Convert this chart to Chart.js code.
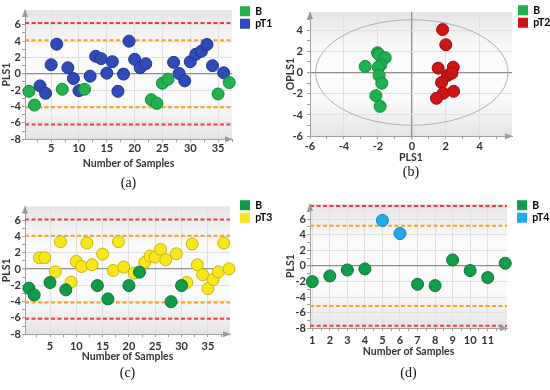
<!DOCTYPE html>
<html>
<head>
<meta charset="utf-8">
<title>PLS score plots</title>
<script src="https://cdn.jsdelivr.net/npm/chart.js@4.4.1/dist/chart.umd.min.js"></script>
<style>
	body { margin: 0; background: #fff; }
	.panel { position: absolute; }
</style>
</head>
<body>
<div class="panel" style="left:0;top:0;width:275px;height:195px"><canvas id="chart-a"></canvas></div>
<div class="panel" style="left:275px;top:0;width:275px;height:185px"><canvas id="chart-b"></canvas></div>
<div class="panel" style="left:0;top:195px;width:275px;height:195px"><canvas id="chart-c"></canvas></div>
<div class="panel" style="left:275px;top:195px;width:275px;height:195px"><canvas id="chart-d"></canvas></div>
<script>
// (a) B vs pT1
const xBa = [1, 2, 7, 11, 23, 24, 25, 26, 35, 37];
const yBa = [-2.14, -3.83, -1.89, -1.89, -3.17, -3.62, -1.15, -0.66, -2.47, -1.07];
const xT1 = [3, 4, 5, 6, 8, 9, 10, 12, 13, 14, 15, 16, 17, 18, 19, 20, 21, 22, 27, 28, 29, 30, 31, 32, 33, 34, 36];
const yT1 = [-1.48, -2.39, 1.11, 3.62, 0.74, -0.58, -2.06, -0.29, 2.14, 1.85, 0.08, 1.48, -2.14, -0.04, 3.99, 1.77, 0.74, 1.23, 1.4, 0.04, -0.86, 1.48, 2.39, 2.76, 3.58, 0.99, 0.12];
const limitsA = [6.2, 4.1, -4.1, -6.2];

// (b) B vs pT2 (OPLS score plot)
const xBb = [-2.75, -2.02, -1.95, -1.57, -1.83, -1.98, -1.93, -1.77, -2.12, -1.87];
const yBb = [0.57, 1.86, 1.7, 1.39, 0.73, 0.5, -0.28, -1.01, -2.18, -3.19];
const xT2 = [1.81, 2.0, 1.55, 2.44, 2.1, 2.36, 1.75, 1.85, 1.45, 2.46];
const yT2 = [4.04, 2.62, 0.41, 0.5, -0.28, -0.06, -0.95, -1.96, -2.43, -1.77];
const ellipseB = [5.67, 4.97]; // Hotelling T2 ellipse half axes

// (c) B vs pT3
const xBc = [1, 2, 5, 8, 14, 16, 20, 22, 28, 30];
const yBc = [-2.35, -3.17, -1.65, -2.55, -2.02, -3.66, -2.02, -0.37, -4.0, -2.02];
const xT3 = [3, 4, 6, 7, 9, 10, 11, 12, 13, 15, 17, 18, 19, 21, 23, 24, 25, 26, 27, 29, 31, 32, 33, 34, 35, 36, 37, 38, 39];
const yT3 = [1.4, 1.4, -0.33, 3.37, -1.6, 0.95, 0.33, 3.21, 0.53, 1.85, -0.16, 3.37, 0.25, -0.49, 0.82, 1.6, 1.48, 2.43, 1.15, 1.89, -1.65, 3.09, 0.53, -0.7, -2.39, -1.28, -0.33, 3.21, 0.04];
const limitsC = [6.1, 4.1, -4.1, -6.1];

// (d) B vs pT4
const xBd = [1, 2, 3, 4, 7, 8, 9, 10, 11, 12];
const yBd = [-2.02, -1.29, -0.52, -0.39, -2.36, -2.53, 0.77, -0.6, -1.5, 0.34];
const xT4 = [5, 6];
const yT4 = [5.84, 4.16];
const limitsD = [7.7, 5.15, -5.15, -7.7];

// Tick labels
const sampleTicks = [5, 10, 15, 20, 25, 30, 35];
const sampleTicksD = [1, 2, 3, 4, 5, 6, 7, 8, 9, 10, 11];
const plsTicks = [-8, -6, -4, -2, 0, 2, 4, 6];
const ticksB = [-6, -4, -2, 0, 2, 4];

const family = 'Lato';
const tickFont = { family: family, size: 11, weight: 'bold' };
const legendFont = { family: family, size: 10.5, weight: 'bold' };

// background, limit lines, ellipse, axis arrows, legend placement
const plotDecor = {
	id: 'plotDecor',
	afterLayout(chart, args, opts) {
		const lg = chart.legend;
		if (!lg || opts.legendX === undefined) return;
		lg.left = opts.legendX - 2;
		lg.width = 40;
		lg.right = lg.left + lg.width;
		lg.top = opts.legendY - 2;
		lg.bottom = lg.top + lg.height;
	},
	beforeDraw(chart) {
		const { ctx, chartArea: a } = chart;
		const g = ctx.createLinearGradient(0, a.top, 0, a.bottom);
		g.addColorStop(0, '#e4e4e4');
		g.addColorStop(0.3, '#fbfbfb');
		g.addColorStop(0.7, '#fbfbfb');
		g.addColorStop(1, '#e4e4e4');
		ctx.save();
		ctx.fillStyle = g;
		ctx.fillRect(a.left, a.top, a.right - a.left, a.bottom - a.top);
		ctx.restore();
	},
	beforeDatasetsDraw(chart, args, opts) {
		const { ctx, chartArea: a, scales } = chart;
		ctx.save();
		const limits = opts.limits || [];
		const outer = Math.max(...limits.map(Math.abs));
		ctx.lineWidth = 2;
		ctx.setLineDash([4, 2.5]);
		limits.forEach((v) => {
			const py = scales.y.getPixelForValue(v);
			ctx.strokeStyle = Math.abs(v) === outer ? '#f23c3c' : '#f5a11a';
			ctx.beginPath();
			ctx.moveTo(a.left, py);
			ctx.lineTo(a.right, py);
			ctx.stroke();
		});
		if (opts.ellipse) {
			ctx.setLineDash([]);
			const cx = scales.x.getPixelForValue(0);
			const cy = scales.y.getPixelForValue(0);
			const rx = scales.x.getPixelForValue(opts.ellipse[0]) - cx;
			const ry = cy - scales.y.getPixelForValue(opts.ellipse[1]);
			ctx.strokeStyle = '#b0b0b0';
			ctx.lineWidth = 1;
			ctx.beginPath();
			ctx.ellipse(cx, cy, rx, ry, 0, 0, Math.PI * 2);
			ctx.stroke();
		}
		ctx.restore();
	},
	afterDraw(chart) {
		const { ctx, chartArea: a } = chart;
		ctx.save();
		ctx.fillStyle = '#9a9a9a';
		ctx.beginPath();
		ctx.moveTo(a.left, a.top - 1);
		ctx.lineTo(a.left - 3, a.top + 7);
		ctx.lineTo(a.left + 3, a.top + 7);
		ctx.fill();
		ctx.beginPath();
		ctx.moveTo(a.right + 1, a.bottom);
		ctx.lineTo(a.right - 7, a.bottom - 3);
		ctx.lineTo(a.right - 7, a.bottom + 3);
		ctx.fill();
		ctx.restore();
	},
};

function toPoints(xs, ys) {
	return xs.map((x, i) => ({ x: x, y: ys[i] }));
}

function series(label, xs, ys, fill, border) {
	return {
		label: label,
		data: toPoints(xs, ys),
		backgroundColor: fill,
		borderColor: border,
		borderWidth: 1,
		pointRadius: 6,
		pointHoverRadius: 6,
		clip: false,
	};
}

// labelled ticks plus unlabelled minor tick marks every `minor` units
function axis(min, max, ticks, minor, title, p) {
	const horizontal = p.height !== undefined;
	const isMajor = (v) => ticks.includes(v);
	return {
		type: 'linear',
		min: min,
		max: max,
		afterBuildTicks: (s) => {
			const vals = [];
			for (let v = Math.ceil(min / minor) * minor; v <= max + 1e-9; v += minor) {
				vals.push(Math.round(v * 1000) / 1000);
			}
			s.ticks = vals.map((v) => ({ value: v }));
		},
		afterFit: (s) => {
			if (horizontal) s.height = p.height;
			else s.width = p.width;
		},
		grid: {
			color: (c) => {
				if (!c.tick || !isMajor(c.tick.value)) return 'rgba(0,0,0,0)';
				return c.tick.value === 0 ? '#8e8e8e' : '#e0e0e0';
			},
			lineWidth: (c) => (c.tick && c.tick.value === 0 ? 1.3 : 1),
			tickLength: 3,
			tickColor: '#a0a0a0',
		},
		border: { color: '#a0a0a0' },
		ticks: {
			font: tickFont,
			color: '#333',
			padding: p.tickPad,
			maxRotation: 0,
			autoSkip: false,
			callback: (v) => (isMajor(v) ? v : ''),
		},
		title: {
			display: true,
			text: title,
			font: { family: family, size: 10.5, weight: 'bold' },
			color: '#333',
			padding: horizontal ? { top: 0, bottom: p.titlePad } : { top: p.titlePad, bottom: 0 },
		},
	};
}

function legendOpts() {
	return {
		position: 'right',
		align: 'start',
		maxWidth: 20,
		labels: {
			boxWidth: 10,
			boxHeight: 10,
			padding: 2,
			color: '#333',
			font: legendFont,
			generateLabels: (chart) => chart.data.datasets.map((d, i) => ({
				text: d.label,
				fillStyle: d.backgroundColor,
				strokeStyle: d.backgroundColor,
				lineWidth: 0,
				datasetIndex: i,
				hidden: false,
			})),
		},
	};
}

function caption(text, bottom) {
	return {
		display: true,
		text: text,
		position: 'bottom',
		fullSize: false,
		color: '#111',
		font: { family: 'Liberation Serif', size: 14, weight: 'normal' },
		padding: { top: 0, bottom: bottom },
	};
}

// (a)
!(function () {
	const ctx = document.getElementById('chart-a');

	new Chart(ctx, {
		type: 'scatter',
		data: {
			datasets: [
				series('B', xBa, yBa, '#21b14d', '#168a3a'),
				series('pT1', xT1, yT1, '#2f4bb7', '#1f358f'),
			],
		},
		options: {
			responsive: true,
			maintainAspectRatio: false,
			animation: false,
			layout: { padding: { top: 10, right: 23, left: 0, bottom: 0 } },
			scales: {
				x: axis(0.3, 37.5, sampleTicks, 2.5, 'Number of Samples', { height: 36, tickPad: 0, titlePad: 5 }),
				y: axis(-8, 7.8, plsTicks, 1, 'PLS1', { width: 25, tickPad: 1, titlePad: 0 }),
			},
			plugins: {
				legend: legendOpts(),
				title: caption('(a)', 3),
				tooltip: { enabled: false },
				plotDecor: { limits: limitsA, legendX: 240, legendY: 6 },
			},
		},
		plugins: [plotDecor],
	});
})();

// (b)
!(function () {
	const ctx = document.getElementById('chart-b');

	new Chart(ctx, {
		type: 'scatter',
		data: {
			datasets: [
				series('B', xBb, yBb, '#1fb04f', '#158a3b'),
				series('pT2', xT2, yT2, '#cd1515', '#9e0c0c'),
			],
		},
		options: {
			responsive: true,
			maintainAspectRatio: false,
			animation: false,
			layout: { padding: { top: 12, right: 18, left: 0, bottom: 0 } },
			scales: {
				x: axis(-6, 5.9, ticksB, 1, 'PLS1', { height: 28, tickPad: 1, titlePad: 0 }),
				y: axis(-6, 5.7, ticksB, 1, 'OPLS1', { width: 35, tickPad: 4, titlePad: 9 }),
			},
			plugins: {
				legend: legendOpts(),
				title: caption('(b)', 4),
				tooltip: { enabled: false },
				plotDecor: { ellipse: ellipseB, legendX: 243, legendY: 5 },
			},
		},
		plugins: [plotDecor],
	});
})();

// (c)
!(function () {
	const ctx = document.getElementById('chart-c');

	new Chart(ctx, {
		type: 'scatter',
		data: {
			datasets: [
				series('B', xBc, yBc, '#0f9b47', '#0a7434'),
				series('pT3', xT3, yT3, '#f8e71c', '#c9b40a'),
			],
		},
		options: {
			responsive: true,
			maintainAspectRatio: false,
			animation: false,
			layout: { padding: { top: 11.5, right: 25, left: 0, bottom: 0 } },
			scales: {
				x: axis(0.25, 39.2, sampleTicks, 2.5, 'Number of Samples', { height: 31, tickPad: 3, titlePad: 2 }),
				y: axis(-8, 7.7, plsTicks, 1, 'PLS1', { width: 25, tickPad: 1, titlePad: 0 }),
			},
			plugins: {
				legend: legendOpts(),
				title: caption('(c)', 8),
				tooltip: { enabled: false },
				plotDecor: { limits: limitsC, legendX: 240, legendY: 5 },
			},
		},
		plugins: [plotDecor],
	});
})();

// (d)
!(function () {
	const ctx = document.getElementById('chart-d');

	new Chart(ctx, {
		type: 'scatter',
		data: {
			datasets: [
				series('B', xBd, yBd, '#119d49', '#0b7636'),
				series('pT4', xT4, yT4, '#22a9f0', '#1580c2'),
			],
		},
		options: {
			responsive: true,
			maintainAspectRatio: false,
			animation: false,
			layout: { padding: { top: 9, right: 23, left: 0, bottom: 0 } },
			scales: {
				x: axis(0.87, 12.1, sampleTicksD, 0.5, 'Number of Samples', { height: 37, tickPad: 3, titlePad: 7 }),
				y: axis(-8, 7.95, plsTicks, 1, 'PLS1', { width: 35, tickPad: 1, titlePad: 9 }),
			},
			plugins: {
				legend: legendOpts(),
				title: caption('(d)', 8),
				tooltip: { enabled: false },
				plotDecor: { limits: limitsD, legendX: 242, legendY: 5 },
			},
		},
		plugins: [plotDecor],
	});
})();
</script>
</body>
</html>
